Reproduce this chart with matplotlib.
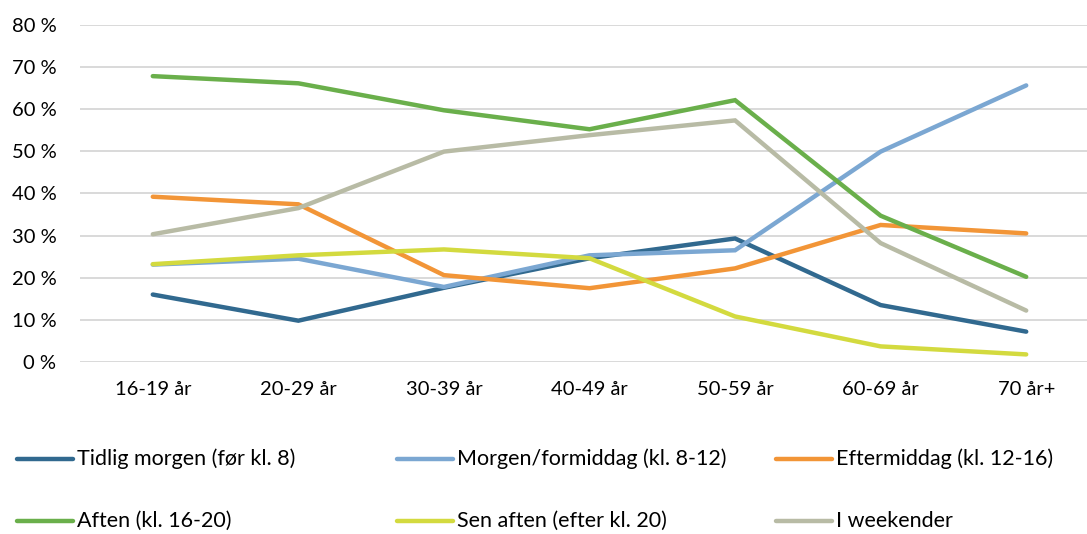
import matplotlib
matplotlib.use("Agg")
import matplotlib.pyplot as plt
from matplotlib.lines import Line2D

# Aldersgrupper
aldre = ["16-19 år", "20-29 år", "30-39 år", "40-49 år", "50-59 år", "60-69 år", "70 år+"]

# Andele (0-1)
tidlig_morgen = [0.160, 0.098, 0.176, 0.246, 0.293, 0.135, 0.072]
morgen_formiddag = [0.231, 0.245, 0.178, 0.253, 0.265, 0.499, 0.656]
eftermiddag = [0.392, 0.374, 0.206, 0.175, 0.222, 0.325, 0.305]
aften = [0.678, 0.661, 0.597, 0.552, 0.621, 0.347, 0.202]
sen_aften = [0.232, 0.253, 0.267, 0.246, 0.108, 0.037, 0.018]
weekender = [0.303, 0.365, 0.499, 0.538, 0.573, 0.282, 0.122]

navne = ["Tidlig morgen (før kl. 8)", "Morgen/formiddag (kl. 8-12)", "Eftermiddag (kl. 12-16)",
         "Aften (kl. 16-20)", "Sen aften (efter kl. 20)", "I weekender"]
farver = ["#31698F", "#7BA7D2", "#F29537", "#6AAF4B", "#D3DA3F", "#B8BBA5"]
serier = [tidlig_morgen, morgen_formiddag, eftermiddag, aften, sen_aften, weekender]

plt.rcParams["font.family"] = ["Lato", "DejaVu Sans"]

W, H = 1087, 534
fig = plt.figure(figsize=(W / 100, H / 100), dpi=100)
ax = fig.add_axes([80 / W, (H - 362) / H, (1099 - 80) / W, (362 - 24.7) / H])

x = range(len(aldre))
for vals, farve in zip(serier, farver):
    ax.plot(x, vals, color=farve, linewidth=3.2, solid_capstyle="round", solid_joinstyle="miter")

ax.set_xlim(-0.5, len(aldre) - 0.5)
ax.set_ylim(0, 0.8)
ax.set_yticks([i / 10 for i in range(9)])
ax.set_yticklabels([f"{i * 10} %" for i in range(9)])
ax.set_xticks(list(x))
ax.set_xticklabels(aldre)
ax.tick_params(axis="both", length=0, labelsize=14.5, colors="#000000")
ax.tick_params(axis="y", pad=17)
ax.tick_params(axis="x", pad=14)
ax.grid(axis="y", color="#D9D9D9", linewidth=1.4)
ax.set_axisbelow(True)
for s in ax.spines.values():
    s.set_visible(False)

# Legende (3 kolonner, 2 rækker)
kol_x = [17, 397, 776]
rad_y = [459, 521]
for i, (navn, farve) in enumerate(zip(navne, farver)):
    kx = kol_x[i % 3]
    ry = rad_y[i // 3]
    fig.add_artist(Line2D([kx / W, (kx + 56) / W], [1 - ry / H, 1 - ry / H],
                          color=farve, linewidth=3.2, solid_capstyle="round"))
    fig.text((kx + 60) / W, 1 - ry / H, navn, fontsize=15.5, va="center", ha="left")

plt.savefig("out.png", dpi=100)
